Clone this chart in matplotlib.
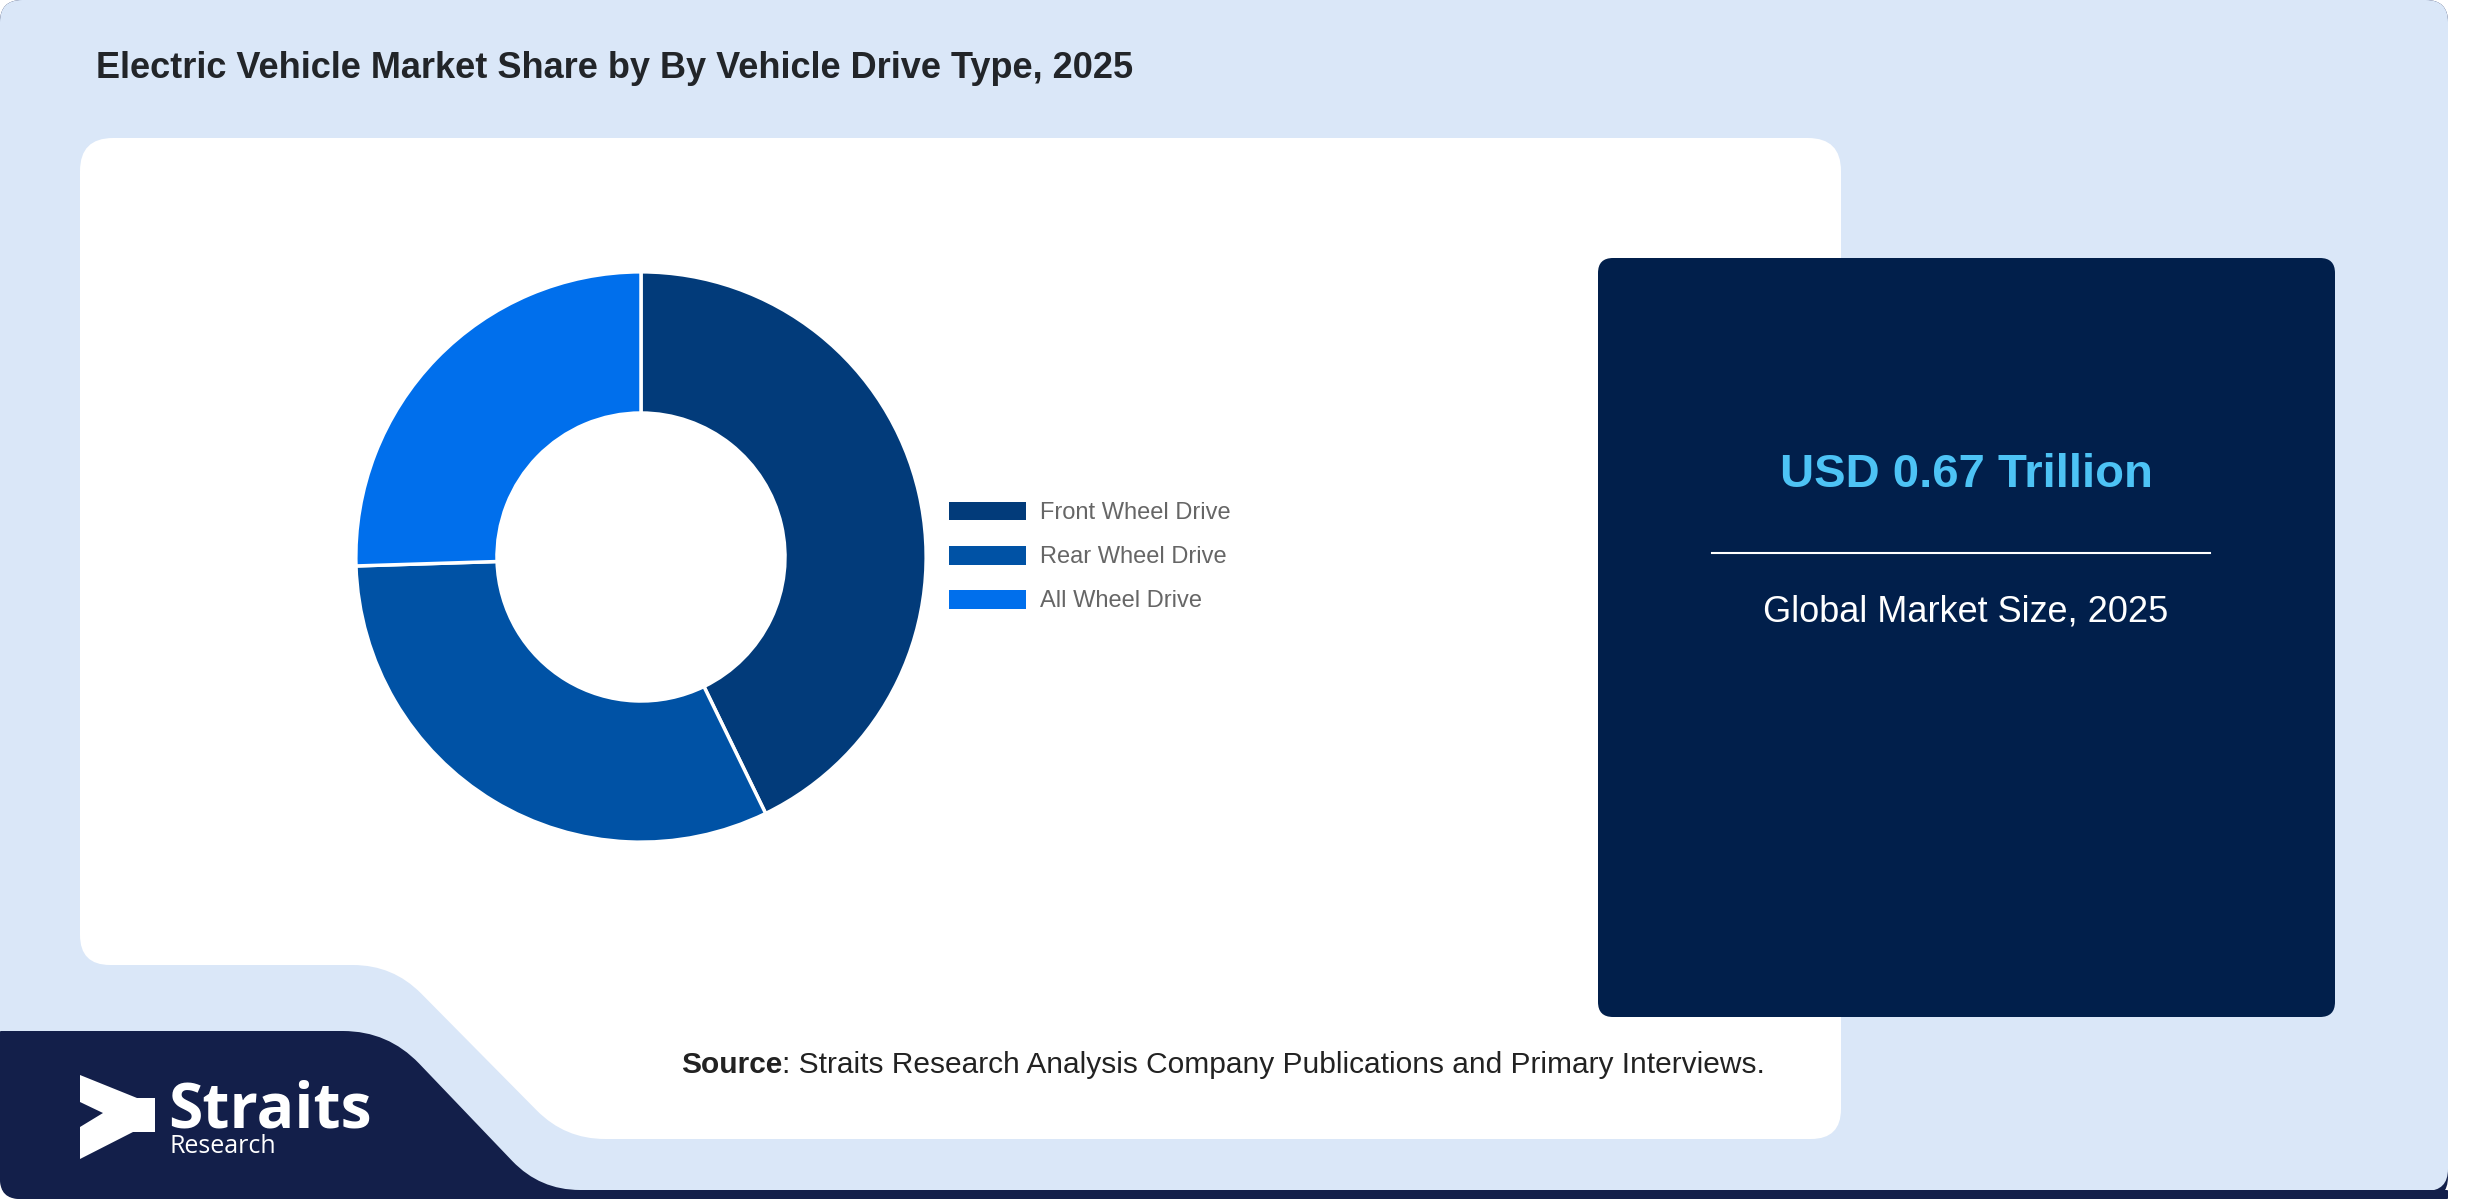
import numpy as np
import matplotlib.pyplot as plt
from matplotlib.path import Path
from matplotlib.patches import PathPatch, Patch

# chart data
segments = ['Front Wheel Drive', 'Rear Wheel Drive', 'All Wheel Drive']
shares = [42.8, 31.7, 25.5]
colors = ['#023b7a', '#0052a5', '#006fec']

title = 'Electric Vehicle Market Share by By Vehicle Drive Type, 2025'
market_value = 'USD 0.67 Trillion'
market_label = 'Global Market Size, 2025'
source_head = 'Source'
source_rest = ': Straits Research Analysis Company Publications and Primary Interviews.'

W, H = 2480, 1200
FONT = 'Liberation Sans'


def rounded_path(points, radius):
    # closed polygon, every corner rounded with a quadratic bezier
    pts = np.asarray(points, dtype=float)
    n = len(pts)
    verts, codes = [], []
    for i in range(n):
        p0, p1, p2 = pts[i - 1], pts[i], pts[(i + 1) % n]
        r = radius[i] if np.iterable(radius) else radius
        d1 = (p0 - p1) / np.hypot(*(p0 - p1))
        d2 = (p2 - p1) / np.hypot(*(p2 - p1))
        verts += [p1 + d1 * r, p1, p1 + d2 * r]
        codes += [Path.MOVETO if i == 0 else Path.LINETO, Path.CURVE3, Path.CURVE3]
    verts.append(verts[0])
    codes.append(Path.CLOSEPOLY)
    return Path(verts, codes)


fig = plt.figure(figsize=(W / 100, H / 100), dpi=100, facecolor='white')
bg = fig.add_axes([0, 0, 1, 1])
bg.set_xlim(0, W)
bg.set_ylim(H, 0)
bg.axis('off')

# card background, dark strip showing along the bottom edge
bg.add_patch(PathPatch(rounded_path([(0, 0), (2448, 0), (2448, 1199), (0, 1199)], 22),
                       fc='#13204a', ec='none'))
bg.add_patch(PathPatch(rounded_path([(0, 0), (2448, 0), (2448, 1191), (0, 1191)], 22),
                       fc='#dae7f8', ec='none'))

# navy logo block bottom left, running into the bottom strip
bg.add_patch(PathPatch(rounded_path([(0, 1031), (388, 1031), (540, 1190), (2448, 1190),
                                     (2448, 1199), (0, 1199)],
                                    [1, 45, 40, 1, 1, 20]), fc='#131f4a', ec='none'))

# white chart panel with the notch
bg.add_patch(PathPatch(rounded_path([(80, 138), (1841, 138), (1841, 1139), (565, 1139),
                                     (393, 965), (80, 965)], [33, 33, 30, 40, 40, 30]),
                       fc='white', ec='none'))

# dark market size box
bg.add_patch(PathPatch(rounded_path([(1598, 258), (2335, 258), (2335, 1017), (1598, 1017)], 15),
                       fc='#011f4b', ec='none'))

bg.text(96, 78, title, fontsize=26, fontweight='bold', color='#222529',
        family=FONT, va='baseline')

bg.text(1966, 487, market_value, fontsize=34, fontweight='bold', color='#4dc3f5',
        family=FONT, ha='center', va='baseline')
bg.plot([1712, 2210], [553, 553], color='white', lw=1.5)
bg.text(1966, 622, market_label, fontsize=26, color='white',
        family=FONT, ha='center', va='baseline')

src = bg.text(681, 1073, source_head, fontsize=21.5, fontweight='bold', color='#222222',
              family=FONT, va='baseline')
bg.annotate(source_rest, xy=(1, 0), xycoords=src, fontsize=21.5, color='#222222',
            family=FONT, va='bottom')

# logo
icon = [(80, 1075), (137, 1098), (155, 1098), (155, 1132), (133, 1132),
        (80, 1159), (80, 1127), (103, 1113), (80, 1102)]
bg.add_patch(plt.Polygon(icon, closed=True, fc='white', ec='none'))
bg.text(168, 1128, 'Straits', fontsize=45, fontweight='bold', color='white',
        family='Open Sans', va='baseline')
bg.text(170, 1153, 'Research', fontsize=18, color='white',
        family='Open Sans', va='baseline')

# donut
cx, cy, r = 641, 557, 288
ax = fig.add_axes([(cx - r) / W, (H - cy - r) / H, 2 * r / W, 2 * r / H])
ax.pie(shares, colors=colors, startangle=90, counterclock=False, radius=1,
       wedgeprops=dict(width=0.495, edgecolor='white', linewidth=2.5))
ax.set_xlim(-1.01, 1.01)
ax.set_ylim(-1.01, 1.01)
ax.set_aspect('equal')

handles = [Patch(facecolor=c, edgecolor='none') for c in colors]
fig.legend(handles, segments, loc='center left', bbox_to_anchor=(949 / W, 1 - 557 / H),
           frameon=False, prop={'family': FONT, 'size': 17}, labelcolor='#666666',
           handlelength=3.26, handleheight=0.85, labelspacing=0.91, handletextpad=0.6,
           borderpad=0, borderaxespad=0)

fig.savefig('out.png', dpi=100, facecolor='white')
